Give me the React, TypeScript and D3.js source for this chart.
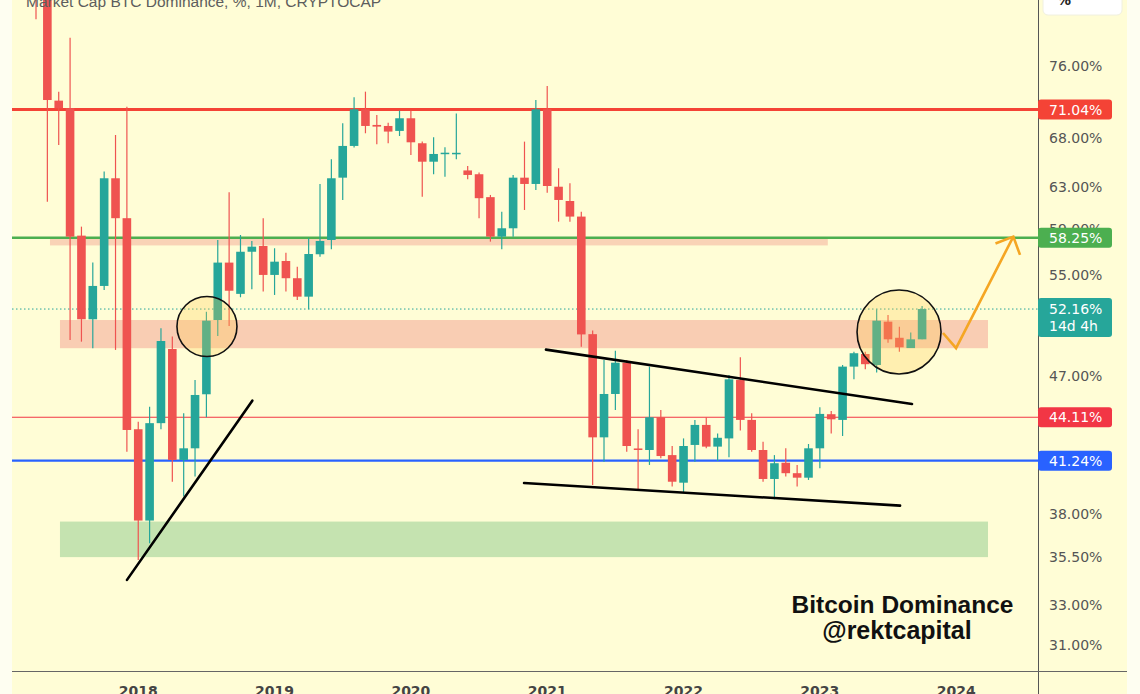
import React from 'react';
import * as d3 from 'd3';

// ---- Data (monthly candles, CRYPTOCAP:BTC.D, starting Apr 2017) ----
const startYear = 2017;
const startMonthIdx = 3; // April
const opens = [87.0, 85.5, 72.03, 71.19, 58.44, 51.34, 54.06, 63.87, 60.04, 43.3, 37.59, 43.71, 49.03, 41.29, 42.04, 45.71, 51.28, 56.05, 53.4, 57.0, 57.51, 54.99, 56.19, 54.71, 53.17, 56.78, 58.05, 63.93, 67.15, 71.07, 69.37, 69.26, 68.73, 70.09, 67.43, 65.53, 66.32, 66.37, 64.65, 64.27, 62.03, 58.35, 59.11, 63.93, 63.31, 71.07, 63.04, 61.66, 60.19, 50.17, 42.76, 45.73, 48.0, 42.03, 41.93, 44.11, 41.6, 39.86, 42.26, 43.59, 42.15, 42.69, 46.73, 43.93, 41.93, 40.09, 41.11, 40.45, 40.17, 42.04, 44.32, 43.93, 47.71, 48.65, 47.83, 51.15, 49.89, 49.1, 49.77];
const highs = [88.0, 86.0, 73.04, 79.4, 59.26, 56.05, 64.55, 68.3, 71.36, 43.81, 44.84, 50.63, 49.98, 44.39, 46.73, 51.94, 58.05, 62.49, 58.5, 57.96, 60.04, 57.31, 56.92, 55.7, 58.21, 63.31, 65.77, 69.55, 72.4, 73.04, 70.45, 69.61, 70.93, 70.93, 67.6, 68.06, 67.01, 70.61, 65.1, 64.44, 62.24, 60.65, 64.2, 67.6, 72.1, 73.68, 64.87, 63.38, 60.65, 50.45, 48.2, 48.9, 48.2, 43.3, 47.71, 44.61, 42.19, 42.69, 43.93, 44.11, 43.02, 47.09, 48.4, 44.39, 42.47, 41.6, 42.04, 40.97, 42.32, 44.8, 44.54, 47.83, 48.83, 48.83, 52.14, 51.68, 50.75, 50.29, 52.41];
const lows = [81.7, 61.6, 67.25, 49.72, 49.59, 49.08, 53.72, 48.96, 41.82, 35.36, 36.29, 43.3, 39.92, 39.01, 40.24, 44.11, 50.03, 50.81, 53.12, 53.78, 53.59, 53.31, 53.59, 52.9, 52.14, 56.57, 57.22, 61.76, 67.0, 68.48, 67.33, 67.43, 68.19, 66.21, 62.07, 64.27, 64.03, 65.77, 63.77, 60.04, 57.9, 57.22, 58.35, 60.81, 62.72, 62.46, 59.72, 59.72, 49.21, 39.72, 41.18, 44.61, 41.82, 39.45, 40.97, 41.4, 39.62, 39.26, 41.18, 42.04, 41.22, 41.46, 43.21, 41.82, 39.92, 38.85, 40.24, 39.62, 40.03, 40.76, 43.02, 42.85, 46.78, 47.52, 47.27, 49.51, 48.83, 49.1, 49.77];
const closes = [85.5, 72.1, 71.19, 58.35, 51.34, 54.06, 63.87, 60.04, 43.25, 37.59, 43.71, 49.64, 41.29, 42.04, 45.66, 51.23, 56.05, 53.66, 57.0, 57.45, 54.99, 56.13, 54.71, 53.17, 56.8, 57.96, 63.87, 67.15, 71.07, 69.26, 69.19, 68.66, 70.09, 67.53, 65.53, 66.32, 66.45, 66.44, 64.2, 61.93, 58.35, 59.11, 63.93, 63.31, 71.07, 63.11, 61.76, 60.19, 50.15, 42.76, 45.73, 48.0, 42.19, 41.93, 44.11, 41.54, 39.92, 42.19, 43.59, 42.15, 42.73, 46.78, 43.93, 41.93, 40.09, 41.08, 40.45, 40.17, 42.04, 44.34, 43.97, 47.71, 48.71, 47.89, 51.23, 49.77, 49.16, 49.77, 52.16];

// visible tick labels (ticks hidden behind the level boxes are omitted, 59 is partly covered)
const yTickValues = [76, 68, 63, 59, 55, 47, 38, 35.5, 33, 31];
const yearLabels = [2018, 2019, 2020, 2021, 2022, 2023, 2024];

const resistanceLevel = 71.04;
const targetLevel = 58.25;
const lastPrice = 52.16;
const midLevel = 44.11;
const supportLevel = 41.24;
const countdown = '14d 4h';

// zones: [startIndex, endIndex, topValue, bottomValue]
const pinkZone = [2.11, 83.8, 51.28, 49.09];
const pinkBand = [1.23, 69.7, 58.25, 57.56];
const greenZone = [2.11, 83.8, 37.53, 35.52];

// trend lines: [[index, value], [index, value]]
const trendLines = [
  [[8.01, 34.29], [19.04, 45.26]],
  [[44.89, 48.98], [77.11, 45.03]],
  [[42.96, 39.84], [76.06, 38.47]],
];
// circles: [index, value]
const circleCenters = [[15.05, 50.77], [75.97, 50.34]];
const circleRadii = [30, 42];
// projected path
const arrowPath = [[79.84, 50.26], [80.99, 49.09], [86.03, 58.35]];
const arrowHead = [[84.46, 57.73], [86.03, 58.35], [86.62, 56.72]];

const titleText = 'Market Cap BTC Dominance, %, 1M, CRYPTOCAP';

export default function App() {
  const W = 1140;
  const H = 694;
  const plotL = 12;
  const plotR = 1038;
  const plotB = 671.5;
  const axisR = 1127;

  const x = d3.scaleLinear().domain([0, 78]).range([36, 922.1]);
  const y = d3.scaleLog().domain([31, 76]).range([645, 66]);
  const bw = 8.6;

  const UP = '#26A69A';
  const DOWN = '#EF5350';
  const start = new Date(startYear, startMonthIdx, 1);

  const line = d3
    .line<number[]>()
    .x((d) => x(d[0]))
    .y((d) => y(d[1]));

  const fmt = (v: number) => v.toFixed(2) + '%';

  const zoneRect = (z: number[], fill: string, key: string) => (
    <rect
      key={key}
      x={x(z[0])}
      y={y(z[2])}
      width={x(z[1]) - x(z[0])}
      height={y(z[3]) - y(z[2])}
      fill={fill}
    />
  );

  const boxLabel = (v: number, color: string, key: string) => {
    const cy = y(v);
    return (
      <g key={key}>
        <rect x={1038} y={cy - 10} width={74} height={20} rx={3} fill={color} />
        <text x={1049} y={cy + 5} fill="#fff" fontSize={14} fontFamily="DejaVu Sans">
          {fmt(v)}
        </text>
      </g>
    );
  };

  return (
    <svg
      width={W}
      height={H}
      style={{ position: 'absolute', left: 0, top: 0 }}
      xmlns="http://www.w3.org/2000/svg"
    >
      <defs>
        <clipPath id="plotClip">
          <rect x={plotL} y={0} width={plotR - plotL} height={plotB} />
        </clipPath>
      </defs>
      <rect x={0} y={0} width={W} height={H} fill="#FEFEF1" />
      <rect x={plotL} y={0} width={axisR - plotL} height={H} fill="#FFFDD6" />

      <g clipPath="url(#plotClip)">
        {/* zones */}
        {zoneRect(pinkZone, '#F9CDB3', 'pz')}
        {zoneRect(pinkBand, '#F9D3B6', 'pb')}
        {zoneRect(greenZone, '#C5E3B0', 'gz')}

        {/* horizontal levels */}
        <line x1={plotL} x2={plotR} y1={y(resistanceLevel)} y2={y(resistanceLevel)} stroke="#F44336" strokeWidth={3} />
        <line x1={plotL} x2={plotR} y1={y(targetLevel)} y2={y(targetLevel)} stroke="#4CAF50" strokeWidth={2.5} />
        <line x1={plotL} x2={plotR} y1={y(midLevel)} y2={y(midLevel)} stroke="#F23645" strokeWidth={1.2} />
        <line x1={plotL} x2={plotR} y1={y(supportLevel)} y2={y(supportLevel)} stroke="#2962FF" strokeWidth={2.2} />
        <line
          x1={plotL}
          x2={plotR}
          y1={y(lastPrice)}
          y2={y(lastPrice)}
          stroke={UP}
          strokeWidth={1}
          strokeDasharray="1.5 2.5"
        />

        {/* candles */}
        {opens.map((o, i) => {
          const c = closes[i];
          const col = c >= o ? UP : DOWN;
          const cx = x(i);
          const top = y(Math.max(o, c));
          const bot = y(Math.min(o, c));
          return (
            <g key={i}>
              <line x1={cx} x2={cx} y1={y(highs[i])} y2={y(lows[i])} stroke={col} strokeWidth={1.2} />
              <rect x={cx - bw / 2} y={top} width={bw} height={Math.max(1.5, bot - top)} fill={col} />
            </g>
          );
        })}

        {/* trend lines */}
        {trendLines.map((tl, i) => (
          <path key={'tl' + i} d={line(tl) || ''} stroke="#000" strokeWidth={2.6} fill="none" strokeLinecap="round" />
        ))}

        {/* circles */}
        {circleCenters.map((cc, i) => (
          <circle
            key={'c' + i}
            cx={x(cc[0])}
            cy={y(cc[1])}
            r={circleRadii[i]}
            fill="rgba(255, 205, 80, 0.28)"
            stroke="#111"
            strokeWidth={1.6}
          />
        ))}

        {/* projection arrow */}
        <path d={line(arrowPath) || ''} stroke="#F5A623" strokeWidth={2.6} fill="none" strokeLinejoin="miter" />
        <path d={line(arrowHead) || ''} stroke="#F5A623" strokeWidth={2.6} fill="none" strokeLinejoin="miter" />

        {/* watermark text */}
        <text x={902.5} y={613} textAnchor="middle" fontFamily="Liberation Sans" fontWeight="bold" fontSize={24.5} fill="#111">
          Bitcoin Dominance
        </text>
        <text x={897} y={638.5} textAnchor="middle" fontFamily="Liberation Sans" fontWeight="bold" fontSize={25} fill="#111">
          @rektcapital
        </text>

        {/* title */}
        <text x={26} y={6.5} fontFamily="Liberation Sans" fontSize={15.5} fill="#5d5d5d">
          {titleText}
        </text>
      </g>

      {/* axes lines */}
      <line x1={plotR + 0.5} x2={plotR + 0.5} y1={0} y2={H} stroke="#555" strokeWidth={1} />
      <line x1={plotL} x2={axisR} y1={plotB} y2={plotB} stroke="#666" strokeWidth={1.2} />
      <rect x={axisR} y={0} width={W - axisR} height={H} fill="#FEFEF1" />

      {/* y tick labels */}
      {yTickValues.map((v) => (
        <text key={'yt' + v} x={1049} y={y(v) + 5} fontSize={14} fontFamily="DejaVu Sans" fill="#555">
          {fmt(v)}
        </text>
      ))}

      {/* level boxes */}
      {boxLabel(resistanceLevel, '#F44336', 'b1')}
      {boxLabel(targetLevel, '#4CAF50', 'b2')}
      <g>
        <rect x={1038} y={y(lastPrice) - 11} width={74} height={39} rx={3} fill={UP} />
        <text x={1049} y={y(lastPrice) + 5} fill="#fff" fontSize={14} fontFamily="DejaVu Sans">
          {fmt(lastPrice)}
        </text>
        <text x={1049} y={y(lastPrice) + 22} fill="#fff" fontSize={14} fontFamily="DejaVu Sans">
          {countdown}
        </text>
      </g>
      {boxLabel(midLevel, '#F23645', 'b3')}
      {boxLabel(supportLevel, '#2962FF', 'b4')}

      {/* x labels */}
      {yearLabels.map((yr) => {
        const idx = d3.timeMonth.count(start, new Date(yr, 0, 1));
        return (
          <text
            key={'yr' + yr}
            x={x(idx)}
            y={696}
            textAnchor="middle"
            fontSize={14}
            fontFamily="DejaVu Sans"
            fontWeight="bold"
            fill="#444"
          >
            {yr}
          </text>
        );
      })}

      {/* % button */}
      <rect x={1043} y={-10} width={79} height={25} rx={5} fill="#fff" stroke="#f0f0e0" />
      <text x={1057} y={5} fontSize={14} fontFamily="DejaVu Sans" fontWeight="bold" fill="#222">
        %
      </text>
    </svg>
  );
}
